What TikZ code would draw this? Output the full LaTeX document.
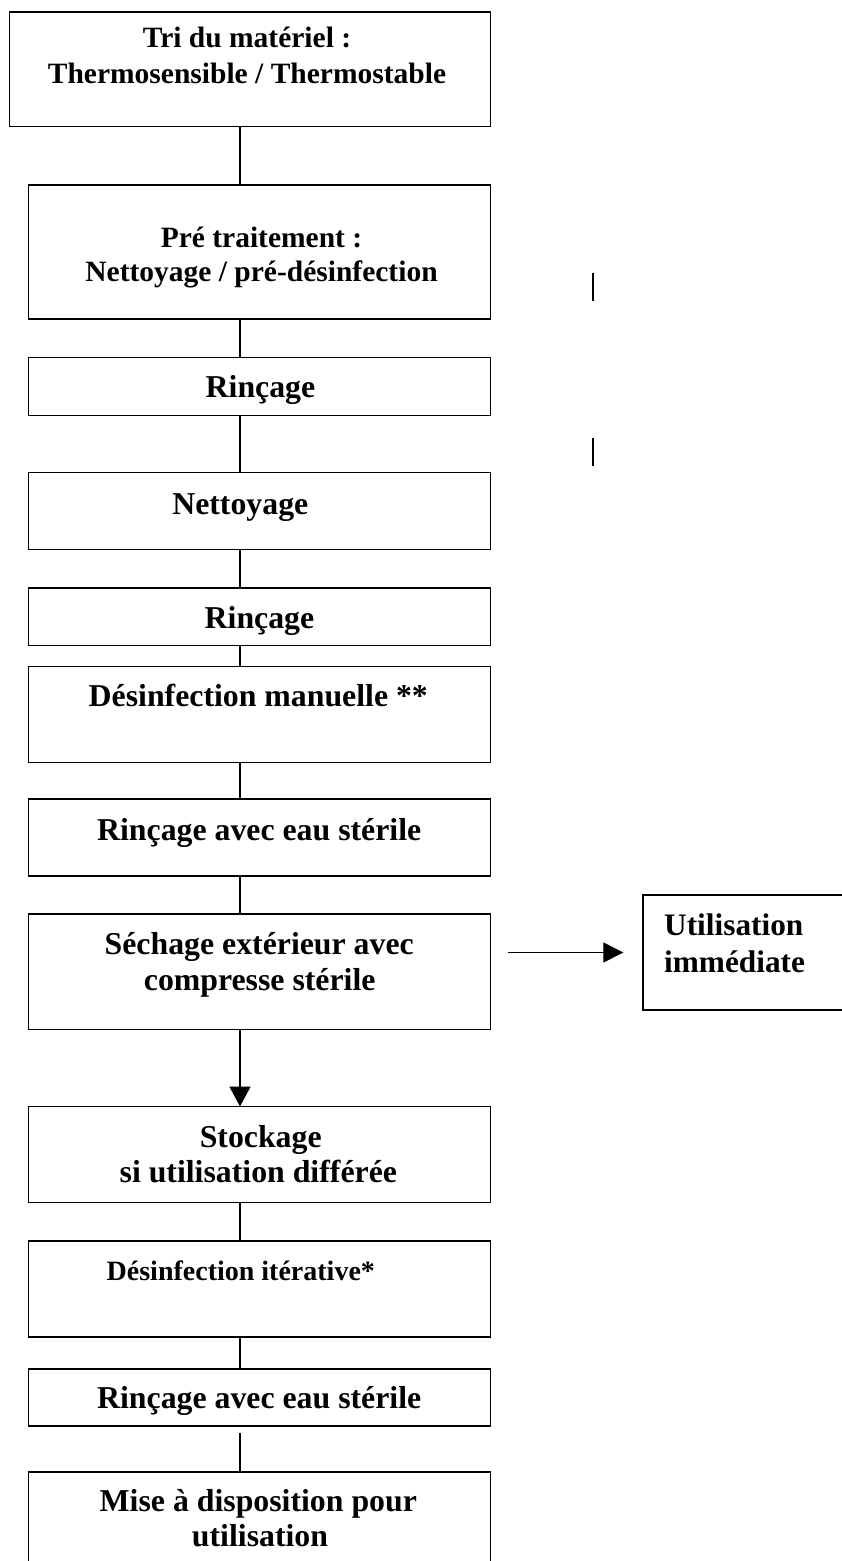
\documentclass[tikz,border=0pt]{standalone}
\usepackage{fontspec}
\setmainfont{Liberation Serif}
\usetikzlibrary{arrows.meta}

\tikzset{
  box/.style={draw, line width=1.4pt, inner sep=0pt, outer sep=0pt, minimum width=462pt},
  link/.style={line width=1.1pt},
  tipdown/.style={line width=1.5pt, -{Triangle[length=20pt,width=21pt]}},
  tipright/.style={line width=1.3pt, -{Triangle[length=20pt,width=20pt]}},
  txt/.style={inner sep=0pt, anchor=base, font=\bfseries\fontsize{31.8}{36}\selectfont},
  txtsm/.style={txt, font=\bfseries\fontsize{29.5}{36}\selectfont},
  txtxs/.style={txt, font=\bfseries\fontsize{28}{36}\selectfont},
  txtleft/.style={txt, anchor=base west, font=\bfseries\fontsize{31.3}{36}\selectfont},
  strayline/.style={line width=1.8pt}
}

\begin{document}
\begin{tikzpicture}[x=1pt, y=-1pt]
\useasboundingbox (0,0) rectangle (842,1561);

% vertical spine of the flow
\coordinate (spine) at (240,0);

% boxes
\node[box, minimum width=481pt, minimum height=114.5pt] (b1) at (250,69.25) {};
\node[box, minimum height=134pt]  (b2)  at (259.5,252) {};
\node[box, minimum height=58pt]   (b3)  at (259.5,386.5) {};
\node[box, minimum height=77pt]   (b4)  at (259.5,511) {};
\node[box, minimum height=57.5pt] (b5)  at (259.5,616.75) {};
\node[box, minimum height=96pt]   (b6)  at (259.5,714.5) {};
\node[box, minimum height=77pt]   (b7)  at (259.5,837.5) {};
\node[box, minimum height=115.5pt](b8)  at (259.5,971.75) {};
\node[box, minimum width=207pt, minimum height=115pt] (b9) at (746.5,952.5) {};
\node[box, minimum height=96pt]   (b10) at (259.5,1154.5) {};
\node[box, minimum height=96pt]   (b11) at (259.5,1289) {};
\node[box, minimum height=57pt]   (b12) at (259.5,1397.5) {};
\node[box, minimum height=100pt]  (b13) at (259.5,1522) {};

% labels
\node[txtsm] (t1a) at (247,47.5) {Tri du matériel :};
\node[txtsm] (t1b) at (247,83.3) {Thermosensible / Thermostable};
\node[txtsm] (t2a) at (261.5,247.3) {Pré traitement :};
\node[txtsm] (t2b) at (261.5,281.7) {Nettoyage / pré-désinfection};
\node[txt] (t3)  at (260.5,397.7) {Rinçage};
\node[txt] (t4)  at (240.3,514) {Nettoyage};
\node[txt] (t5)  at (259.5,628.3) {Rinçage};
\node[txt] (t6)  at (258.3,706.7) {Désinfection manuelle **};
\node[txt] (t7)  at (259.2,840) {Rinçage avec eau stérile};
\node[txt] (t8a) at (259.2,954) {Séchage extérieur avec};
\node[txt] (t8b) at (259.7,990) {compresse stérile};
\node[txtleft] (t9a) at (664,935) {Utilisation};
\node[txtleft] (t9b) at (664,972.7) {immédiate};
\node[txt] (t10a) at (260.7,1147) {Stockage};
\node[txt] (t10b) at (258.3,1182.7) {si utilisation différée};
\node[txtxs] (t11) at (240.8,1280) {Désinfection itérative*};
\node[txt] (t12) at (259.2,1408.3) {Rinçage avec eau stérile};
\node[txt] (t13a) at (258.3,1511.7) {Mise à disposition pour};
\node[txt] (t13b) at (260,1546.7) {utilisation};

% connectors
\draw[link] (b1.south -| spine) -- (b2.north -| spine);
\draw[link] (b2.south -| spine) -- (b3.north -| spine);
\draw[link] (b3.south -| spine) -- (b4.north -| spine);
\draw[link] (b4.south -| spine) -- (b5.north -| spine);
\draw[link] (b5.south -| spine) -- (b6.north -| spine);
\draw[link] (b6.south -| spine) -- (b7.north -| spine);
\draw[link] (b7.south -| spine) -- (b8.north -| spine);
\draw[tipdown] (b8.south -| spine) -- (b10.north -| spine);
\draw[tipright, shorten <=17.5pt, shorten >=19.7pt] (b8.east |- b9.west) -- (b9.west);
\draw[link] (b10.south -| spine) -- (b11.north -| spine);
\draw[link] (b11.south -| spine) -- (b12.north -| spine);
\draw[link] ([yshift=-6.7pt]b12.south -| spine) -- (b13.north -| spine);

% two short stray strokes on the right
\coordinate (m1a) at (593,273);   \coordinate (m1b) at (593,300.7);
\coordinate (m2a) at (593,438);   \coordinate (m2b) at (593,465.7);
\draw[strayline] (m1a) -- (m1b);
\draw[strayline] (m2a) -- (m2b);
\end{tikzpicture}
\end{document}
